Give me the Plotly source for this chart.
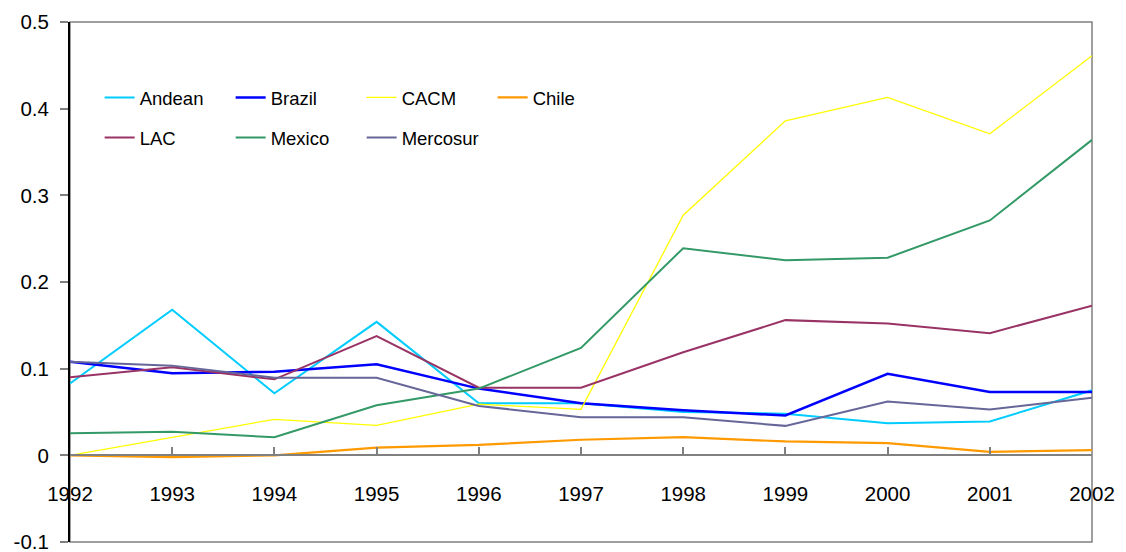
import plotly.graph_objects as go

years = list(range(1992, 2003))
andean = [0.083, 0.168, 0.0715, 0.154, 0.060, 0.060, 0.050, 0.048, 0.037, 0.039, 0.075]
brazil = [0.108, 0.0946, 0.0965, 0.105, 0.077, 0.060, 0.052, 0.046, 0.094, 0.073, 0.073]
cacm = [0.0, 0.021, 0.0415, 0.0346, 0.059, 0.053, 0.277, 0.386, 0.413, 0.371, 0.461]
chile = [0.0, -0.002, 0.0, 0.0088, 0.012, 0.018, 0.021, 0.016, 0.014, 0.004, 0.006]
lac = [0.090, 0.1015, 0.0877, 0.1377, 0.078, 0.078, 0.119, 0.156, 0.152, 0.141, 0.1726]
mexico = [0.0254, 0.0273, 0.0208, 0.0577, 0.077, 0.124, 0.239, 0.225, 0.228, 0.271, 0.364]
mercosur = [0.108, 0.1035, 0.0896, 0.0896, 0.057, 0.044, 0.044, 0.034, 0.062, 0.053, 0.0665]

series = [
    ("Andean", andean, "#00CCFF", 2, "legend"),
    ("Brazil", brazil, "#0000FF", 2.5, "legend"),
    ("CACM", cacm, "#FFFF00", 1.3, "legend"),
    ("Chile", chile, "#FF9900", 2.2, "legend"),
    ("LAC", lac, "#993366", 2, "legend2"),
    ("Mexico", mexico, "#339966", 2, "legend2"),
    ("Mercosur", mercosur, "#666699", 2, "legend2"),
]

fig = go.Figure()
for name, vals, color, w, lg in series:
    fig.add_trace(go.Scatter(x=years, y=vals, name=name, mode="lines",
                             line=dict(color=color, width=w), legend=lg))

font = "Liberation Sans, Arial, sans-serif"
legend_common = dict(orientation="h", entrywidth=86, entrywidthmode="pixels",
                     bgcolor="rgba(0,0,0,0)", font=dict(family=font, size=18.5, color="black"),
                     xanchor="left", yanchor="middle", itemclick=False, tracegroupgap=0)

fig.update_layout(
    width=1126, height=552,
    margin=dict(l=70, r=34, t=22, b=10, autoexpand=False),
    paper_bgcolor="white", plot_bgcolor="white",
    font=dict(family=font, size=20.5, color="black"),
    showlegend=True,
    legend=dict(x=0.029, y=0.854, **legend_common),
    legend2=dict(x=0.029, y=0.777, **legend_common),
    xaxis=dict(range=[1992, 2002], tickmode="array", tickvals=years,
               ticktext=[str(y) for y in years],
               anchor="free", position=1/6, showline=True, linecolor="#808080",
               linewidth=1.5, ticks="inside", ticklen=8, tickwidth=2, tickcolor="#808080",
               showgrid=False, zeroline=False, ticklabelstandoff=20,
               ticklabeloverflow="allow", automargin=False,
               tickfont=dict(family=font, size=20.5, color="black")),
    yaxis=dict(range=[-0.1, 0.5], tickmode="array",
               tickvals=[-0.1, 0, 0.1, 0.2, 0.3, 0.4, 0.5],
               ticktext=["-0.1", "0", "0.1", "0.2", "0.3", "0.4", "0.5"],
               showline=True, linecolor="black", linewidth=2,
               ticks="outside", ticklen=8, tickwidth=1.5, tickcolor="#808080",
               showgrid=False, zeroline=False, ticklabelstandoff=7,
               ticklabeloverflow="allow", automargin=False,
               tickfont=dict(family=font, size=20.5, color="black")),
    shapes=[dict(type="rect", xref="paper", yref="paper", x0=0, x1=1, y0=0, y1=1,
                 line=dict(color="#808080", width=1.5), layer="below")],
)

fig.write_html("out.html", config={"displayModeBar": False},
               post_script="document.body.style.margin='0';")
